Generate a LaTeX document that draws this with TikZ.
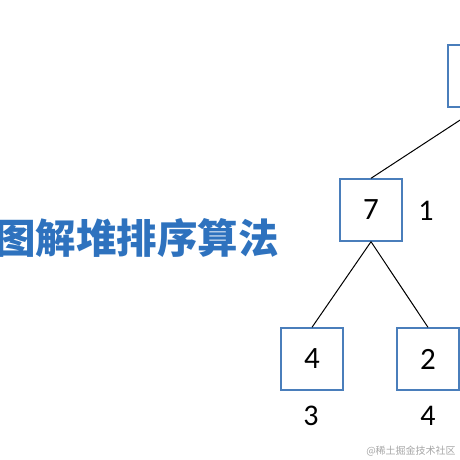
\documentclass[tikz,border=0pt]{standalone}
\usepackage{fontspec}
\setmainfont{Carlito}
\newfontfamily\cjk{Noto Sans CJK SC}
\usepackage{xcolor}
\usetikzlibrary{positioning}

\definecolor{boxblue}{RGB}{74,126,187}
\definecolor{titleblue}{RGB}{46,114,190}

\begin{document}
\begin{tikzpicture}[
    x=1pt, y=-1pt,
    heapbox/.style = {draw=boxblue, line width=1.4pt, rectangle,
                      minimum width=62pt, minimum height=62pt,
                      inner sep=0pt, font=\fontsize{31}{31}\selectfont},
    idx/.style     = {font=\fontsize{30}{30}\selectfont, inner sep=0pt},
    edge/.style    = {draw=black, line width=1pt},
]
    \useasboundingbox (0,0) rectangle (460,460);
    \clip (0,0) rectangle (460,460);

    % ── Titre ──
    \node[text=titleblue, inner sep=0pt,
          font=\cjk\bfseries\fontsize{40.5}{41}\selectfont] (title) at (137,238) {图解堆排序算法};

    % ── Arbre (tas) ──
    \node[heapbox] (root) at (479,76) {};
    \node[heapbox] (n7) at (371,210) {7};
    \node[heapbox] (n4) at (312,359) {4};
    \node[heapbox] (n2) at (428,359) {2};

    % ── Indices ──
    \node[idx] (i1) at (426,211) {1};
    \node[idx] (i3) at (311,416) {3};
    \node[idx] (i4) at (428,416) {4};

    % ── Arêtes ──
    \draw[edge] (root.south) -- (n7.north);
    \draw[edge] (n7.south) -- (n4.north);
    \draw[edge] (n7.south) -- (n2.north);

    % ── Filigrane ──
    \node[text=gray!70, font=\cjk\fontsize{10}{10}\selectfont, inner sep=0pt] (mark) at (411,451) {@稀土掘金技术社区};
\end{tikzpicture}
\end{document}
